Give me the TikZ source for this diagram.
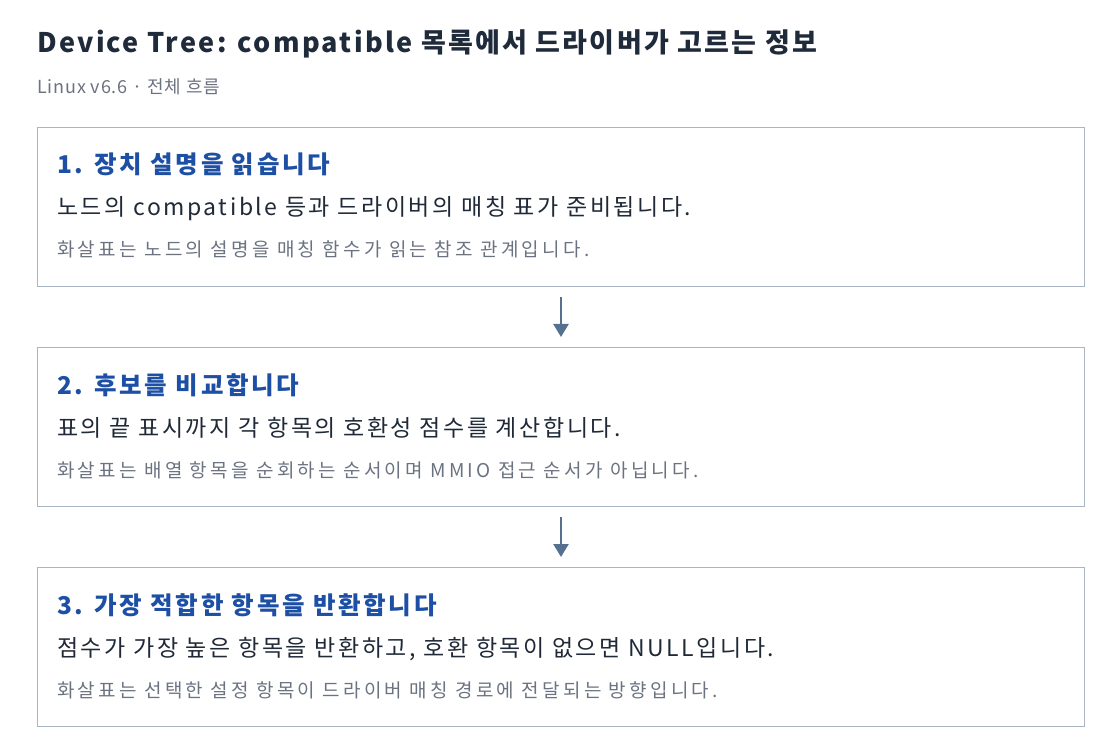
\documentclass[tikz,border=0pt]{standalone}
\usepackage{fontspec}
\setmainfont{Noto Sans CJK KR}
\newfontfamily\headfont[LetterSpace=8.5]{Noto Sans CJK KR}
\newfontfamily\subfont[LetterSpace=4.5]{Noto Sans CJK KR}
\newfontfamily\titlefont[LetterSpace=11]{Noto Sans CJK KR}
\newfontfamily\bodyfont[LetterSpace=11]{Noto Sans CJK KR}
\newfontfamily\notefont[LetterSpace=17]{Noto Sans CJK KR}
\usetikzlibrary{%
	positioning,%
	arrows.meta%
}
\definecolor{boxline}{HTML}{AAB5C4}
\definecolor{headcol}{HTML}{1F2A3A}
\definecolor{stepcol}{HTML}{1D4FA5}
\definecolor{bodycol}{HTML}{1F2937}
\definecolor{notecol}{HTML}{6B7280}
\definecolor{arrowcol}{HTML}{56708F}

\begin{document}
\begin{tikzpicture}[x=1pt,y=-1pt,
		stepbox/.style={draw=boxline, line width=1pt, anchor=north west, minimum width=1047pt, minimum height=159pt, inner sep=0pt},
		steptitle/.style={anchor=base west, inner sep=0pt, text=stepcol, font=\titlefont\fontsize{24.5}{28}\selectfont\bfseries},
		stepbody/.style={anchor=base west, inner sep=0pt, text=bodycol, font=\bodyfont\fontsize{23}{27}\selectfont},
		stepnote/.style={anchor=base west, inner sep=0pt, text=notecol, font=\notefont\fontsize{19}{23}\selectfont},
		flow/.style={draw=arrowcol, line width=2.5pt, -{Triangle[width=15pt,length=13pt]}}]
		\useasboundingbox (0,0) rectangle (1120,754);
		
		% Heading
		\node[anchor=base west, inner sep=0pt, text=headcol, font=\headfont\fontsize{27}{31}\selectfont\bfseries] (T) at (37,53) {Device Tree: compatible 목록에서 드라이버가 고르는 정보};
		\node[anchor=base west, inner sep=0pt, text=notecol, font=\subfont\fontsize{18}{22}\selectfont] (S) at (37,94) {Linux v6.6 · 전체 흐름};
		
		% Boxes
		\node[stepbox] (A) at (37,127) {};
		\node[stepbox] (B) at (37,347) {};
		\node[stepbox] (C) at (37,567) {};
		
		% Texts
		\node[steptitle] (A1) at ([xshift=20pt,yshift=-47pt] A.north west) {1. 장치 설명을 읽습니다};
		\node[stepbody] (A2) at ([xshift=20pt,yshift=-89pt] A.north west) {노드의 compatible 등과 드라이버의 매칭 표가 준비됩니다.};
		\node[stepnote] (A3) at ([xshift=20pt,yshift=-130pt] A.north west) {화살표는 노드의 설명을 매칭 함수가 읽는 참조 관계입니다.};
		
		\node[steptitle] (B1) at ([xshift=20pt,yshift=-47pt] B.north west) {2. 후보를 비교합니다};
		\node[stepbody] (B2) at ([xshift=20pt,yshift=-89pt] B.north west) {표의 끝 표시까지 각 항목의 호환성 점수를 계산합니다.};
		\node[stepnote] (B3) at ([xshift=20pt,yshift=-130pt] B.north west) {화살표는 배열 항목을 순회하는 순서이며 MMIO 접근 순서가 아닙니다.};
		
		\node[steptitle] (C1) at ([xshift=20pt,yshift=-47pt] C.north west) {3. 가장 적합한 항목을 반환합니다};
		\node[stepbody] (C2) at ([xshift=20pt,yshift=-89pt] C.north west) {점수가 가장 높은 항목을 반환하고, 호환 항목이 없으면 NULL입니다.};
		\node[stepnote] (C3) at ([xshift=20pt,yshift=-130pt] C.north west) {화살표는 선택한 설정 항목이 드라이버 매칭 경로에 전달되는 방향입니다.};
		
		% Arrows
		\draw[flow] ([yshift=-10pt] A.south) -- ([yshift=10pt] B.north);
		\draw[flow] ([yshift=-10pt] B.south) -- ([yshift=10pt] C.north);
	\end{tikzpicture}
\end{document}
